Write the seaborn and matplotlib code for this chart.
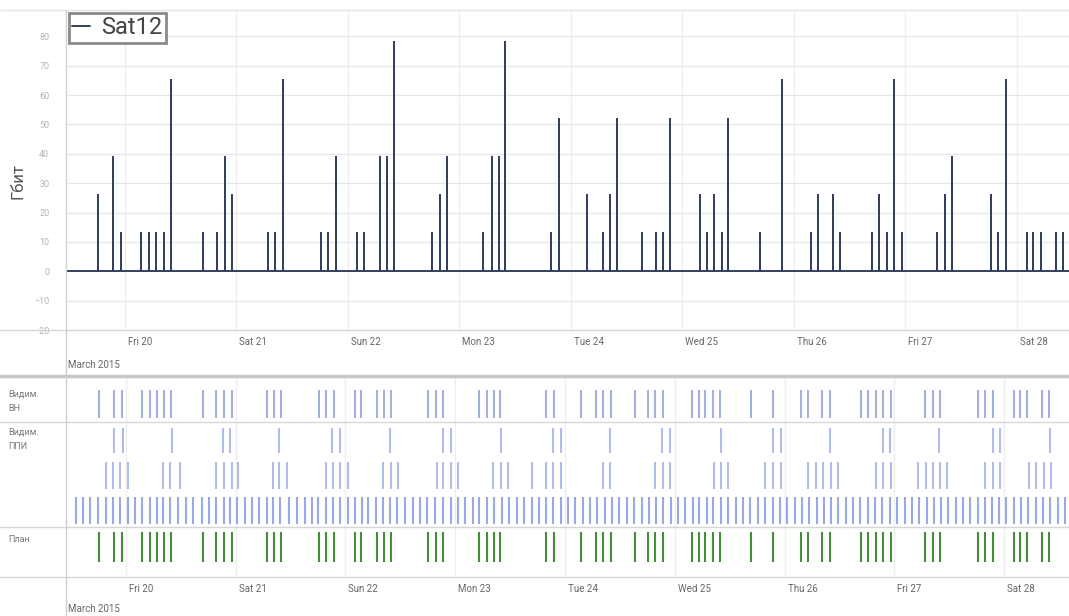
import pandas as pd
import numpy as np
import seaborn as sns
import matplotlib
matplotlib.use("Agg")
from matplotlib import pyplot as plt
from matplotlib.lines import Line2D
import matplotlib.transforms as mtransforms

sns.set_theme(style="white")
plt.rcParams['font.family'] = ['Roboto', 'DejaVu Sans']

# origine du temps : toutes les valeurs sont en heures depuis le 19 mars 2015 00:00
t0 = pd.Timestamp("2015-03-19 00:00")

# sessions Sat12 (heures, Гбит)
sat12_hours = [18.2, 21.4, 23.1, 27.5, 29.2, 30.7, 32.4, 33.9, 40.8, 43.8, 45.5, 47.1,
               54.8, 56.3, 58.0, 66.2, 67.7, 69.5, 74.0, 75.5, 78.9, 80.5, 82.0, 90.1,
               91.9, 93.4, 101.1, 102.9, 104.4, 105.9, 115.8, 117.5, 123.5, 126.8, 128.3,
               130.0, 135.2, 138.2, 139.7, 141.4, 147.7, 149.2, 150.7, 152.4, 153.9,
               160.6, 165.5, 171.6, 173.1, 176.3, 178.0, 184.7, 186.2, 188.0, 189.5,
               191.2, 198.7, 200.5, 202.0, 210.4, 211.9, 213.6, 218.1, 219.4, 221.1,
               224.4, 225.9]
sat12_gbit = [26, 39, 13, 13, 13, 13, 13, 65, 13, 13, 39, 26,
              13, 13, 65, 13, 13, 39, 13, 13, 39, 39, 78, 13,
              26, 39, 13, 39, 39, 78, 13, 52, 26, 13, 26,
              52, 13, 13, 13, 52, 26, 13, 26, 13, 52,
              13, 65, 13, 26, 26, 13, 13, 26, 13, 65,
              13, 13, 26, 39, 26, 13, 65, 13, 13, 13,
              13, 13]

# видимость ВН и план совпадают с сеансами
vn_hours = sat12_hours
plan_hours = sat12_hours

# видимость ППИ, три подстроки
ppi1_hours = [21.4, 23.3, 34.1, 45.2, 46.7, 57.5, 69.1, 70.8, 81.7, 93.3, 95.1, 106.0,
              117.4, 119.1, 129.8, 141.2, 143.0, 154.1, 165.5, 167.2, 178.0, 189.5,
              191.1, 201.8, 213.6, 215.1, 226.1]
ppi2_hours = [19.6, 21.2, 22.7, 24.4, 32.1, 33.6, 35.8, 43.7, 45.4, 47.2, 48.5, 56.2,
              57.5, 59.2, 67.7, 69.3, 70.8, 72.6, 80.2, 82.0, 83.5, 92.0, 93.3, 95.1,
              96.6, 104.3, 106.0, 107.5, 112.8, 115.9, 117.4, 119.1, 128.3, 129.8,
              139.7, 141.4, 143.0, 152.6, 154.1, 155.7, 163.7, 165.5, 167.2, 173.1,
              174.9, 176.4, 178.2, 179.7, 188.0, 189.5, 191.3, 197.2, 198.9, 200.5,
              202.0, 203.5, 211.9, 213.6, 215.1, 221.5, 223.0, 224.8, 226.3]
ppi3_hours = [13.1, 14.6, 16.1, 17.9, 19.6, 21.2, 22.7, 24.4, 26.0, 27.5, 29.3, 30.8,
              32.1, 33.6, 35.4, 37.1, 38.7, 40.6, 42.2, 43.7, 45.4, 46.7, 48.3, 50.0,
              51.6, 53.1, 54.8, 56.2, 57.7, 59.7, 61.4, 63.1, 64.7, 66.0, 67.7, 69.3,
              70.8, 72.6, 74.1, 75.6, 76.9, 78.7, 80.2, 81.7, 83.3, 85.0, 86.8, 88.3,
              89.8, 91.6, 93.3, 95.1, 96.6, 98.1, 99.9, 101.2, 102.9, 104.5, 106.2,
              107.8, 109.5, 111.0, 112.8, 114.3, 115.9, 117.4, 119.1, 120.7, 122.2,
              123.9, 125.5, 127.0, 128.8, 130.3, 131.8, 133.6, 135.1, 136.8, 138.4,
              139.9, 141.4, 143.2, 144.7, 146.2, 148.0, 149.3, 151.1, 152.4, 154.1,
              155.7, 157.4, 158.9, 160.5, 162.2, 163.7, 165.5, 167.0, 168.6, 170.3,
              171.8, 173.4, 175.1, 176.6, 178.2, 179.7, 181.5, 183.0, 184.5, 186.3,
              187.8, 189.3, 191.1, 192.6, 194.4, 195.9, 197.4, 199.2, 200.7, 202.2,
              203.8, 205.5, 207.0, 208.6, 210.3, 211.9, 213.4, 214.9, 216.4, 218.2,
              219.7, 221.3, 223.0, 224.5, 226.1, 227.8, 229.3]

row_labels = ["Видим.\nВН", "Видим.\nППИ", "План"]
day_ticks = pd.date_range("2015-03-20", "2015-03-28", freq="D")
day_labels = [d.strftime("%a %d") for d in day_ticks]


def to_time(hours):
    return t0 + pd.to_timedelta(np.asarray(hours), unit="h")


W, H = 1069, 616
fig = plt.figure(figsize=(W / 100, H / 100), dpi=100)


def fx(px):
    return px / W


def fy(px):
    return 1 - px / H


# ---------- panneau du haut : spikes ----------
ax = fig.add_axes([fx(66), fy(330), fx(1003), (330 - 10) / H])
top_start, top_end = 11.3, 227.2
line_h, line_v = [top_start], [0]
for h, v in zip(sat12_hours, sat12_gbit):
    line_h += [h, h, h]
    line_v += [0, v, 0]
line_h.append(top_end)
line_v.append(0)
df = pd.DataFrame({"t": to_time(line_h), "v": line_v})
sns.lineplot(data=df, x="t", y="v", sort=False, estimator=None, ax=ax,
             color="#34405f", lw=1.4, label="Sat12")
ax.set_xlim(to_time([top_start])[0], to_time([top_end])[0])
ax.set_ylim(-20, 89)
ax.set_yticks(range(-20, 90, 10))
ax.tick_params(axis="y", labelsize=6.5, labelcolor="#b4b4b4", length=0, pad=12)
ax.set_xticks(day_ticks)
ax.set_xticklabels(day_labels, ha="left")
ax.tick_params(axis="x", labelsize=7, labelcolor="#666666", length=0, pad=5)
off = mtransforms.ScaledTranslation(0.03, 0, fig.dpi_scale_trans)
for lab in ax.get_xticklabels():
    lab.set_transform(lab.get_transform() + off)
ax.grid(True, axis="y", color="#e6e6e6", lw=0.9)
ax.grid(True, axis="x", color="#eeeeee", lw=0.9)
ax.set_xlabel("")
ax.set_ylabel("")
for s in ax.spines.values():
    s.set_visible(False)
leg = ax.legend(loc="upper left", bbox_to_anchor=(0.0, 1.0), borderaxespad=0.12,
                fontsize=17, handlelength=0.75, handletextpad=0.45, borderpad=0.15,
                fancybox=False, framealpha=1, edgecolor="#8a8a8a")
leg.get_frame().set_linewidth(2)
for t in leg.get_texts():
    t.set_color("#444444")

fig.text(fx(18), fy(181), "Гбит", rotation=90, ha="center", va="center",
         fontsize=12, color="#555555")
fig.text(fx(68), fy(365), "March 2015", ha="left", va="center", fontsize=7, color="#666666")

# ---------- panneau du bas : timeline ----------
bx = fig.add_axes([fx(66), fy(577), fx(1003), (577 - 378) / H])
bot_start, bot_end = 10.9, 230.2
rows = [
    (vn_hours, 12, 40, "#a4b1df"),
    (ppi1_hours, 50, 75, "#b0bdec"),
    (ppi2_hours, 84, 111, "#b0bdec"),
    (ppi3_hours, 119, 146, "#98a9e6"),
    (plan_hours, 154, 184, "#468f3a"),
]
for hours, y0, y1, col in rows:
    bx.vlines(to_time(hours), y0, y1, color=col, lw=1.5)
bx.set_xlim(to_time([bot_start])[0], to_time([bot_end])[0])
bx.set_ylim(199, 0)
bx.set_yticks([])
bx.set_xticks(day_ticks)
bx.set_xticklabels(day_labels, ha="left")
bx.tick_params(axis="x", labelsize=7, labelcolor="#666666", length=0, pad=5)
for lab in bx.get_xticklabels():
    lab.set_transform(lab.get_transform() + off)
bx.grid(True, axis="x", color="#eeeeee", lw=0.9)
for s in bx.spines.values():
    s.set_visible(False)

fig.text(fx(8), fy(390), row_labels[0], ha="left", va="top", fontsize=6.5,
         color="#777777", linespacing=1.7)
fig.text(fx(8), fy(428), row_labels[1], ha="left", va="top", fontsize=6.5,
         color="#777777", linespacing=1.7)
fig.text(fx(8), fy(540), row_labels[2], ha="left", va="center", fontsize=6.5,
         color="#777777")
fig.text(fx(68), fy(609), "March 2015", ha="left", va="center", fontsize=7, color="#666666")

# lignes de séparation
for ypx, col, lw in [(10, "#e4e4e4", 1), (330, "#d6d6d6", 1), (376, "#c6c6c6", 2.5),
                     (422, "#d6d6d6", 1), (527, "#d6d6d6", 1), (577, "#d6d6d6", 1)]:
    fig.add_artist(Line2D([0, 1], [fy(ypx), fy(ypx)], color=col, lw=lw))
fig.add_artist(Line2D([fx(66), fx(66)], [fy(10), 0], color="#d0d0d0", lw=1))

fig.savefig("out.png", dpi=100)
